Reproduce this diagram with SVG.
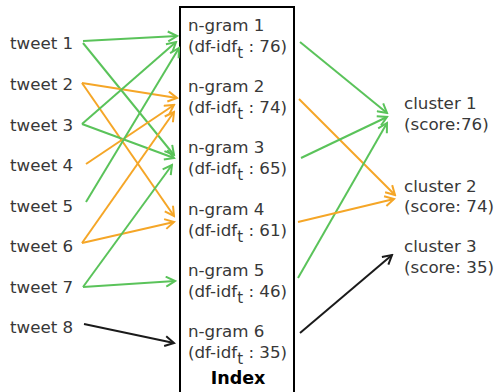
<svg xmlns="http://www.w3.org/2000/svg" width="497" height="392" viewBox="0 0 497 392">
<style>
text{font-family:"DejaVu Sans",Verdana,sans-serif;font-size:16.7px;fill:#383838}
.sub{font-size:15px}
.idx{font-weight:bold;fill:#000;text-anchor:middle;font-size:17.5px}
.g{stroke:#5ac35a;stroke-width:2;fill:none;marker-end:url(#ag)}
.o{stroke:#f5a627;stroke-width:2;fill:none;marker-end:url(#ao)}
.k{stroke:#1a1a1a;stroke-width:2;fill:none;marker-end:url(#ak)}
</style>
<defs>
<marker id="ag" markerUnits="userSpaceOnUse" viewBox="-11 -6 13 12" refX="0" refY="0" markerWidth="13" markerHeight="12" orient="auto"><path d="M-9,-5 L0,0 L-9,5" fill="none" stroke="#5ac35a" stroke-width="2"/></marker>
<marker id="ao" markerUnits="userSpaceOnUse" viewBox="-11 -6 13 12" refX="0" refY="0" markerWidth="13" markerHeight="12" orient="auto"><path d="M-9,-5 L0,0 L-9,5" fill="none" stroke="#f5a627" stroke-width="2"/></marker>
<marker id="ak" markerUnits="userSpaceOnUse" viewBox="-11 -6 13 12" refX="0" refY="0" markerWidth="13" markerHeight="12" orient="auto"><path d="M-9,-5 L0,0 L-9,5" fill="none" stroke="#1a1a1a" stroke-width="2"/></marker>
</defs>
<g id="index">
<rect x="180" y="7" width="114" height="400" fill="none" stroke="#000" stroke-width="2"/>
<text class="idx" x="238" y="384">Index</text>
</g>
<g id="tweets">
<g id="tweet1"><text x="10" y="49">tweet 1</text></g>
<g id="tweet2"><text x="10" y="90">tweet 2</text></g>
<g id="tweet3"><text x="10" y="131">tweet 3</text></g>
<g id="tweet4"><text x="10" y="171">tweet 4</text></g>
<g id="tweet5"><text x="10" y="212">tweet 5</text></g>
<g id="tweet6"><text x="10" y="252">tweet 6</text></g>
<g id="tweet7"><text x="10" y="293">tweet 7</text></g>
<g id="tweet8"><text x="10" y="333">tweet 8</text></g>
</g>
<g id="ngrams">
<g id="ngram1"><text x="188" y="31">n-gram 1</text><text x="188" y="52">(df-idf<tspan class="sub" dy="6">t</tspan><tspan dy="-6"> : 76)</tspan></text></g>
<g id="ngram2"><text x="188" y="92">n-gram 2</text><text x="188" y="113">(df-idf<tspan class="sub" dy="6">t</tspan><tspan dy="-6"> : 74)</tspan></text></g>
<g id="ngram3"><text x="188" y="153">n-gram 3</text><text x="188" y="174">(df-idf<tspan class="sub" dy="6">t</tspan><tspan dy="-6"> : 65)</tspan></text></g>
<g id="ngram4"><text x="188" y="215">n-gram 4</text><text x="188" y="236">(df-idf<tspan class="sub" dy="6">t</tspan><tspan dy="-6"> : 61)</tspan></text></g>
<g id="ngram5"><text x="188" y="276">n-gram 5</text><text x="188" y="297">(df-idf<tspan class="sub" dy="6">t</tspan><tspan dy="-6"> : 46)</tspan></text></g>
<g id="ngram6"><text x="188" y="337">n-gram 6</text><text x="188" y="358">(df-idf<tspan class="sub" dy="6">t</tspan><tspan dy="-6"> : 35)</tspan></text></g>
</g>
<g id="clusters">
<g id="cluster1"><text x="404" y="109">cluster 1</text><text x="404" y="130">(score:76)</text></g>
<g id="cluster2"><text x="404" y="192">cluster 2</text><text x="404" y="212">(score: 74)</text></g>
<g id="cluster3"><text x="404" y="252">cluster 3</text><text x="404" y="273">(score: 35)</text></g>
</g>
<g id="connectors">
<line class="g" x1="83" y1="41" x2="177" y2="36"/>
<line class="g" x1="83" y1="43" x2="174" y2="155"/>
<line class="o" x1="82" y1="83" x2="177" y2="98"/>
<line class="o" x1="82" y1="83" x2="174" y2="216"/>
<line class="g" x1="82" y1="124" x2="176" y2="42"/>
<line class="g" x1="82" y1="124" x2="174" y2="158"/>
<line class="o" x1="86" y1="164" x2="174" y2="105"/>
<line class="g" x1="86" y1="202" x2="179" y2="48"/>
<line class="o" x1="82" y1="243" x2="174" y2="112"/>
<line class="o" x1="82" y1="243" x2="174" y2="222"/>
<line class="g" x1="83" y1="287" x2="172" y2="165"/>
<line class="g" x1="83" y1="287" x2="175" y2="281"/>
<line class="k" x1="84" y1="324" x2="174" y2="343"/>
<line class="g" x1="300" y1="42" x2="387" y2="113"/>
<line class="o" x1="299" y1="99" x2="395" y2="195"/>
<line class="g" x1="301" y1="158" x2="387" y2="117"/>
<line class="g" x1="298" y1="278" x2="387" y2="123"/>
<line class="o" x1="298" y1="222" x2="394" y2="199"/>
<line class="k" x1="300" y1="333" x2="392" y2="255"/>
</g>
</svg>
